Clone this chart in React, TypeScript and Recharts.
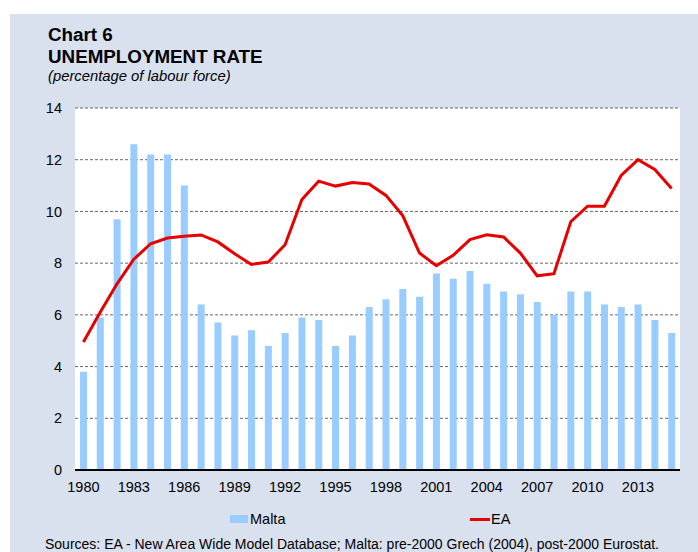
import React from "react";
import {
  ComposedChart,
  Bar,
  Line,
  XAxis,
  YAxis,
  CartesianGrid,
} from "recharts";

const YEARS = [
  "1980", "1981", "1982", "1983", "1984", "1985", "1986", "1987", "1988", "1989",
  "1990", "1991", "1992", "1993", "1994", "1995", "1996", "1997", "1998", "1999",
  "2000", "2001", "2002", "2003", "2004", "2005", "2006", "2007", "2008", "2009",
  "2010", "2011", "2012", "2013", "2014", "2015",
];

const MALTA = [
  3.8, 5.9, 9.7, 12.6, 12.2, 12.2, 11.0, 6.4, 5.7, 5.2,
  5.4, 4.8, 5.3, 5.9, 5.8, 4.8, 5.2, 6.3, 6.6, 7.0,
  6.7, 7.6, 7.4, 7.7, 7.2, 6.9, 6.8, 6.5, 6.0, 6.9,
  6.9, 6.4, 6.3, 6.4, 5.8, 5.3,
];

const EA = [
  4.95, 6.1, 7.2, 8.15, 8.75, 8.97, 9.04, 9.09, 8.82, 8.36,
  7.95, 8.04, 8.71, 10.46, 11.17, 10.98, 11.12, 11.06, 10.62, 9.84,
  8.39, 7.9, 8.3, 8.91, 9.1, 9.01, 8.39, 7.51, 7.59, 9.6,
  10.2, 10.2, 11.39, 12.0, 11.62, 10.89,
];

const Y_TICKS = [0, 2, 4, 6, 8, 10, 12, 14];

const FONT = "'Liberation Sans', Arial, sans-serif";
const PANEL_BG = "#dae1ee";
const BAR_COLOR = "#99ccff";
const LINE_COLOR = "#e80000";

export default function App() {
  const data = YEARS.map((year, i) => ({ year, malta: MALTA[i], ea: EA[i] }));

  const tick = { fontSize: 14.5, fill: "#000", fontFamily: FONT };

  return (
    <div
      style={{
        position: "absolute",
        left: 0,
        top: 0,
        width: 698,
        height: 552,
        background: "#fff",
        overflow: "hidden",
        fontFamily: FONT,
        color: "#000",
      }}
    >
      <div
        style={{
          position: "absolute",
          left: 10,
          top: 14,
          width: 688,
          height: 538,
          background: PANEL_BG,
        }}
      />
      <div style={{ position: "absolute", left: 48, top: 26, fontSize: 18.8, lineHeight: "18.8px", fontWeight: "bold", whiteSpace: "nowrap" }}>
        Chart 6
      </div>
      <div style={{ position: "absolute", left: 48, top: 47.5, fontSize: 18.8, lineHeight: "18.8px", fontWeight: "bold", whiteSpace: "nowrap" }}>
        UNEMPLOYMENT RATE
      </div>
      <div style={{ position: "absolute", left: 48, top: 68.5, fontSize: 14.8, lineHeight: "14.8px", fontStyle: "italic", whiteSpace: "nowrap" }}>
        (percentage of labour force)
      </div>

      <div style={{ position: "absolute", left: 0, top: 0 }}>
        <ComposedChart
          width={698}
          height={552}
          data={data}
          margin={{ top: 108, right: 18, bottom: 52, left: 0 }}
        >
          <CartesianGrid
            vertical={false}
            fill="#fff"
            stroke="#666"
            strokeDasharray="3 2"
          />
          <XAxis
            dataKey="year"
            interval={2}
            height={30}
            tickLine={false}
            tickSize={0}
            tickMargin={12}
            axisLine={{ stroke: "#000", strokeWidth: 2 }}
            tick={tick}
          />
          <YAxis
            domain={[0, 14]}
            ticks={Y_TICKS}
            width={75}
            axisLine={false}
            tickLine={false}
            tickSize={0}
            tickMargin={13}
            tick={tick}
          />
          <Bar dataKey="malta" name="Malta" fill={BAR_COLOR} barSize={7} isAnimationActive={false} />
          <Line
            dataKey="ea"
            name="EA"
            type="linear"
            stroke={LINE_COLOR}
            strokeWidth={3}
            dot={false}
            activeDot={false}
            isAnimationActive={false}
          />
        </ComposedChart>
      </div>

      {/* legend */}
      <div style={{ position: "absolute", left: 230, top: 515, width: 18, height: 8, background: BAR_COLOR }} />
      <div style={{ position: "absolute", left: 250, top: 511, fontSize: 14.5, lineHeight: "16px" }}>Malta</div>
      <div style={{ position: "absolute", left: 470, top: 518, width: 20, height: 3, background: LINE_COLOR }} />
      <div style={{ position: "absolute", left: 491, top: 511, fontSize: 14.5, lineHeight: "16px" }}>EA</div>

      <div style={{ position: "absolute", left: 45, top: 537, fontSize: 14, lineHeight: "14px", whiteSpace: "nowrap" }}>
        Sources: EA - New Area Wide Model Database; Malta: pre-2000 Grech (2004), post-2000 Eurostat.
      </div>
    </div>
  );
}
